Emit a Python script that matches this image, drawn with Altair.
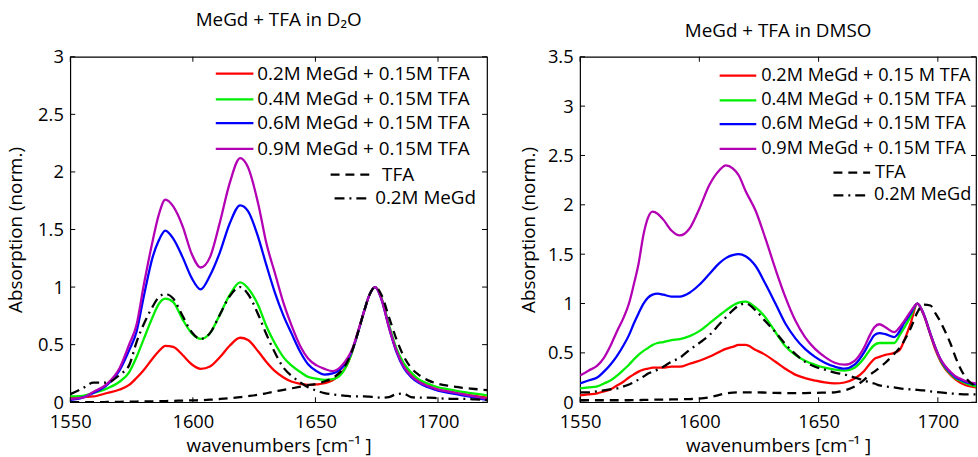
import altair as alt
import pandas as pd

# ---------------- data: MeGd + TFA in D2O ----------------
wn_d2o = [1550, 1555, 1559.4, 1565, 1570.2, 1574, 1577, 1580, 1583.6, 1586,
          1588.8, 1592, 1595.8, 1599.5, 1603.2, 1607, 1611, 1615, 1619.3, 1622.5,
          1626.7, 1630, 1633.5, 1637, 1640.2, 1644, 1647, 1650.5, 1653.7, 1657,
          1660.4, 1663, 1665, 1667, 1670, 1672, 1674.4, 1677, 1680, 1683,
          1686, 1689, 1692, 1696, 1700, 1705, 1710, 1715, 1720]
d2o_02 = [0.04, 0.045, 0.05, 0.08, 0.11, 0.15, 0.21, 0.28, 0.38, 0.44,
          0.49, 0.48, 0.41, 0.33, 0.29, 0.31, 0.39, 0.49, 0.56, 0.54,
          0.44, 0.35, 0.27, 0.215, 0.18, 0.16, 0.15, 0.155, 0.165, 0.19,
          0.25, 0.33, 0.44, 0.58, 0.80, 0.93, 1.0, 0.90, 0.66, 0.45,
          0.32, 0.24, 0.18, 0.14, 0.11, 0.09, 0.07, 0.055, 0.04]
d2o_04 = [0.05, 0.055, 0.08, 0.12, 0.18, 0.26, 0.39, 0.55, 0.74, 0.85,
          0.90, 0.87, 0.72, 0.60, 0.55, 0.60, 0.76, 0.93, 1.04, 0.99,
          0.84, 0.66, 0.51, 0.39, 0.32, 0.26, 0.22, 0.205, 0.195, 0.20,
          0.24, 0.33, 0.44, 0.58, 0.80, 0.93, 1.0, 0.90, 0.67, 0.47,
          0.34, 0.26, 0.20, 0.16, 0.13, 0.11, 0.09, 0.075, 0.06]
d2o_06 = [0.02, 0.04, 0.08, 0.15, 0.28, 0.45, 0.61, 0.92, 1.26, 1.40,
          1.49, 1.42, 1.26, 1.08, 0.98, 1.10, 1.30, 1.55, 1.71, 1.66,
          1.43, 1.19, 0.95, 0.75, 0.60, 0.43, 0.33, 0.27, 0.24, 0.25,
          0.29, 0.36, 0.45, 0.58, 0.80, 0.93, 1.0, 0.89, 0.65, 0.44,
          0.30, 0.22, 0.17, 0.13, 0.10, 0.08, 0.06, 0.04, 0.02]
d2o_09 = [0.03, 0.04, 0.09, 0.16, 0.30, 0.50, 0.67, 1.02, 1.40, 1.62,
          1.76, 1.70, 1.53, 1.29, 1.17, 1.26, 1.56, 1.90, 2.12, 2.04,
          1.72, 1.38, 1.12, 0.86, 0.67, 0.48, 0.38, 0.32, 0.29, 0.27,
          0.31, 0.38, 0.46, 0.59, 0.80, 0.93, 1.0, 0.89, 0.65, 0.45,
          0.31, 0.23, 0.18, 0.14, 0.11, 0.09, 0.07, 0.05, 0.03]
d2o_tfa = [0.0, 0.0, 0.0, 0.002, 0.004, 0.005, 0.006, 0.007, 0.008, 0.009,
           0.01, 0.012, 0.014, 0.016, 0.018, 0.022, 0.028, 0.035, 0.045, 0.053,
           0.065, 0.078, 0.093, 0.108, 0.12, 0.135, 0.148, 0.16, 0.18, 0.21,
           0.27, 0.35, 0.45, 0.58, 0.80, 0.93, 1.0, 0.93, 0.74, 0.55,
           0.40, 0.30, 0.24, 0.19, 0.16, 0.14, 0.125, 0.115, 0.105]
d2o_megd = [0.07, 0.12, 0.17, 0.17, 0.24, 0.32, 0.52, 0.68, 0.83, 0.91,
            0.94, 0.90, 0.75, 0.61, 0.55, 0.60, 0.76, 0.92, 1.0, 0.94,
            0.76, 0.59, 0.43, 0.30, 0.23, 0.17, 0.13, 0.10, 0.08, 0.068,
            0.06, 0.055, 0.05, 0.05, 0.05, 0.048, 0.045, 0.04, 0.045, 0.07,
            0.075, 0.045, 0.04, 0.04, 0.035, 0.03, 0.03, 0.025, 0.02]

# ---------------- data: MeGd + TFA in DMSO ----------------
wn_dmso = [1550, 1553.5, 1557.2, 1560, 1562.7, 1565.5, 1568.3, 1570.5, 1572.4, 1574.5,
           1576.6, 1578.5, 1580.4, 1582.5, 1584.9, 1588.3, 1591.8, 1595.9, 1600, 1604.2,
           1608.4, 1611.1, 1614, 1616.5, 1619.4, 1623.6, 1627.7, 1631.9, 1636, 1640.2,
           1644.3, 1648.5, 1652.6, 1656.8, 1660.9, 1665.1, 1669.2, 1671.5, 1673.4, 1675.5,
           1678, 1681.7, 1684, 1685.8, 1688.6, 1691.4, 1694.1, 1696.9, 1699, 1701,
           1703, 1705.2, 1707.5, 1709.3, 1712, 1716]
dmso_02 = [0.07, 0.08, 0.09, 0.11, 0.13, 0.17, 0.21, 0.25, 0.28, 0.31,
           0.33, 0.34, 0.35, 0.35, 0.35, 0.36, 0.36, 0.39, 0.42, 0.46,
           0.51, 0.54, 0.56, 0.58, 0.58, 0.53, 0.48, 0.41, 0.34, 0.28,
           0.245, 0.22, 0.20, 0.19, 0.20, 0.24, 0.32, 0.39, 0.44, 0.46,
           0.48, 0.50, 0.53, 0.62, 0.80, 1.0, 0.88, 0.68, 0.53, 0.42,
           0.34, 0.28, 0.23, 0.20, 0.17, 0.15]
dmso_04 = [0.14, 0.15, 0.16, 0.19, 0.22, 0.27, 0.33, 0.38, 0.43, 0.48,
           0.52, 0.55, 0.58, 0.60, 0.61, 0.63, 0.64, 0.67, 0.72, 0.80,
           0.88, 0.93, 0.98, 1.01, 1.02, 0.96, 0.86, 0.71, 0.57, 0.48,
           0.42, 0.38, 0.35, 0.33, 0.32, 0.35, 0.45, 0.53, 0.58, 0.60,
           0.60, 0.60, 0.68, 0.75, 0.87, 1.0, 0.89, 0.69, 0.55, 0.43,
           0.35, 0.29, 0.24, 0.22, 0.19, 0.16]
dmso_06 = [0.19, 0.22, 0.25, 0.31, 0.38, 0.47, 0.58, 0.68, 0.79, 0.90,
           1.00, 1.06, 1.09, 1.10, 1.09, 1.07, 1.07, 1.11, 1.19, 1.30,
           1.41, 1.46, 1.49, 1.50, 1.48, 1.38, 1.20, 1.00, 0.80, 0.65,
           0.54, 0.46, 0.40, 0.36, 0.34, 0.38, 0.51, 0.61, 0.68, 0.70,
           0.69, 0.66, 0.72, 0.80, 0.90, 1.0, 0.89, 0.69, 0.55, 0.44,
           0.36, 0.30, 0.25, 0.23, 0.20, 0.18]
dmso_09 = [0.27, 0.32, 0.37, 0.45, 0.57, 0.72, 0.86, 1.00, 1.18, 1.40,
           1.70, 1.87, 1.93, 1.91, 1.85, 1.74, 1.69, 1.76, 1.96, 2.20,
           2.35, 2.40, 2.37, 2.30, 2.14, 1.94, 1.66, 1.35, 1.07, 0.83,
           0.66, 0.54, 0.46, 0.40, 0.38, 0.42, 0.56, 0.68, 0.76, 0.79,
           0.76, 0.71, 0.76, 0.82, 0.92, 1.0, 0.89, 0.69, 0.55, 0.44,
           0.37, 0.31, 0.26, 0.24, 0.21, 0.19]
dmso_tfa = [0.02, 0.02, 0.02, 0.02, 0.02, 0.02, 0.02, 0.02, 0.022, 0.022,
            0.023, 0.024, 0.025, 0.026, 0.027, 0.028, 0.03, 0.032, 0.037, 0.05,
            0.075, 0.09, 0.098, 0.10, 0.10, 0.10, 0.098, 0.095, 0.093, 0.092,
            0.093, 0.095, 0.097, 0.10, 0.12, 0.16, 0.23, 0.28, 0.31, 0.35,
            0.40, 0.49, 0.55, 0.62, 0.75, 0.91, 0.99, 0.98, 0.90, 0.82,
            0.72, 0.60, 0.45, 0.35, 0.24, 0.16]
dmso_megd = [0.10, 0.10, 0.11, 0.12, 0.13, 0.14, 0.16, 0.18, 0.20, 0.23,
             0.26, 0.29, 0.31, 0.33, 0.36, 0.41, 0.45, 0.53, 0.60, 0.68,
             0.79, 0.86, 0.93, 0.98, 1.0, 0.93, 0.82, 0.71, 0.59, 0.49,
             0.41, 0.36, 0.33, 0.30, 0.28, 0.25, 0.22, 0.20, 0.19, 0.17,
             0.16, 0.15, 0.14, 0.135, 0.13, 0.125, 0.12, 0.11, 0.105, 0.10,
             0.095, 0.09, 0.085, 0.082, 0.08, 0.08]

labels_d2o = ["0.2M MeGd + 0.15M TFA", "0.4M MeGd + 0.15M TFA",
              "0.6M MeGd + 0.15M TFA", "0.9M MeGd + 0.15M TFA",
              "TFA", "0.2M MeGd"]
labels_dmso = ["0.2M MeGd + 0.15 M TFA", "0.4M MeGd + 0.15M TFA",
               "0.6M MeGd + 0.15M TFA", "0.9M MeGd + 0.15M TFA",
               "TFA", "0.2M MeGd"]

x_ticks = [1550, 1600, 1650, 1700]
y_ticks_d2o = [0, 0.5, 1, 1.5, 2, 2.5, 3]
y_ticks_dmso = [0, 0.5, 1, 1.5, 2, 2.5, 3, 3.5]

# ---------------- styles ----------------
COLORS = ["#ff0000", "#00ee00", "#0000ff", "#b400b4", "#000000", "#000000"]
DASHES = [None, None, None, None, [9, 6], [10, 5, 2, 5]]
FONT = "Open Sans"
FS = 19
TFS = 18.5
H = 349
TICK = 5


def panel(title, title_offset, ytitle_pad, wn, series, labels, xdom, ydom, yticks,
          W, leg, leg_fs):
    xs = alt.Scale(domain=xdom, nice=False, zero=False)
    ys = alt.Scale(domain=ydom, nice=False, zero=False)
    xax = alt.Axis(values=x_ticks, format="d", title="wavenumbers [cm⁻¹ ]",
                   ticks=False, domain=False, grid=False, labelPadding=11,
                   labelFlush=False, titlePadding=5)
    yax = alt.Axis(values=yticks, format="~g", title="Absorption (norm.)", ticks=False,
                   domain=False, grid=False, labelPadding=7, labelFlush=False,
                   titlePadding=ytitle_pad)
    layers = []
    for vals, col, dash in zip(series, COLORS, DASHES):
        df = pd.DataFrame({"wn": wn, "A": vals})
        kw = dict(color=col, strokeWidth=2.3, clip=True, interpolate="monotone")
        if dash:
            kw["strokeDash"] = dash
        layers.append(alt.Chart(df).mark_line(**kw).encode(
            x=alt.X("wn:Q", scale=xs, axis=xax),
            y=alt.Y("A:Q", scale=ys, axis=yax),
        ))
    # inward tick marks on all four sides
    xt = pd.DataFrame({"wn": x_ticks})
    yt = pd.DataFrame({"A": yticks})
    layers.append(alt.Chart(xt).mark_rule(color="black", strokeWidth=1).encode(
        x=alt.X("wn:Q", scale=xs, axis=xax), y=alt.value(H), y2=alt.value(H - TICK)))
    layers.append(alt.Chart(xt).mark_rule(color="black", strokeWidth=1).encode(
        x=alt.X("wn:Q", scale=xs, axis=xax), y=alt.value(0), y2=alt.value(TICK)))
    layers.append(alt.Chart(yt).mark_rule(color="black", strokeWidth=1).encode(
        y=alt.Y("A:Q", scale=ys, axis=yax), x=alt.value(0), x2=alt.value(TICK)))
    layers.append(alt.Chart(yt).mark_rule(color="black", strokeWidth=1).encode(
        y=alt.Y("A:Q", scale=ys, axis=yax), x=alt.value(W - TICK), x2=alt.value(W)))
    # legend (no box, MATLAB style)
    for i, (lab, col, dash) in enumerate(zip(labels, COLORS, DASHES)):
        x1, x2, xt_, yy = leg[i]
        ldf = pd.DataFrame({"label": [lab]})
        kw = dict(color=col, strokeWidth=2.3)
        if dash:
            kw["strokeDash"] = dash
        layers.append(alt.Chart(ldf).mark_rule(**kw).encode(
            x=alt.value(x1), x2=alt.value(x2), y=alt.value(yy)))
        layers.append(alt.Chart(ldf).mark_text(
            align="left", baseline="middle", font=FONT, fontSize=leg_fs, color="black"
        ).encode(x=alt.value(xt_), y=alt.value(yy), text="label:N"))
    return alt.layer(*layers).properties(
        width=W, height=H,
        title=alt.TitleParams(title, font=FONT, fontSize=FS, fontWeight="normal",
                              color="black", offset=title_offset, anchor="middle"),
    )


leg_d2o = [(147, 185, 189, 17), (147, 185, 189, 43), (147, 185, 189, 67),
           (147, 185, 189, 93), (263, 302, 315, 119), (267, 300, 308, 143)]
leg_dmso = [(141, 178, 183, 19), (141, 178, 183, 44), (141, 178, 183, 68),
            (141, 178, 183, 93), (256, 293, 298, 117), (256, 288, 297, 140)]

left = panel("MeGd + TFA in D₂O", 18, 12, wn_d2o,
             [d2o_02, d2o_04, d2o_06, d2o_09, d2o_tfa, d2o_megd],
             labels_d2o, [1550, 1720], [0, 3], y_ticks_d2o, 421, leg_d2o, 19)
right = panel("MeGd + TFA in DMSO", 7, 9, wn_dmso,
              [dmso_02, dmso_04, dmso_06, dmso_09, dmso_tfa, dmso_megd],
              labels_dmso, [1550, 1716], [0, 3.5], y_ticks_dmso, 400, leg_dmso, 18.3)

chart = alt.hconcat(left, right, spacing=30).properties(
    padding={"left": 6, "top": 8, "right": 0, "bottom": 0},
    background="white",
).configure_view(stroke="black", strokeWidth=1.2).configure_axis(
    labelFont=FONT, labelFontSize=TFS, labelColor="black",
    titleFont=FONT, titleFontSize=FS, titleFontWeight="normal", titleColor="black",
)

chart.save("out.html", embed_options={"renderer": "svg", "actions": False})
